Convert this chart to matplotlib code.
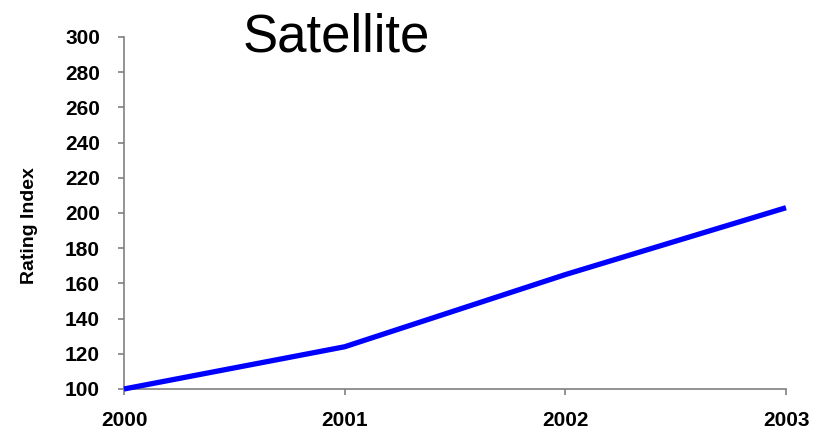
import matplotlib
matplotlib.use("Agg")
import matplotlib.pyplot as plt

years = [2000, 2001, 2002, 2003]
rating_index = [100, 124, 165, 203]
y_ticks = list(range(100, 301, 20))

plt.rcParams['font.family'] = ['Liberation Sans', 'DejaVu Sans']

fig = plt.figure(figsize=(8.23, 4.30), dpi=100)
ax = fig.add_axes([124 / 823, 41 / 430, (786 - 124) / 823, (389 - 37) / 430])

ax.plot(years, rating_index, color='#0000FF', linewidth=3.8, solid_capstyle='butt',
        clip_on=False, zorder=3)

ax.set_xlim(2000, 2003)
ax.set_ylim(100, 300)
ax.set_xticks(years)
ax.set_xticklabels([str(y) for y in years])
ax.set_yticks(y_ticks)

for side in ('top', 'right'):
    ax.spines[side].set_visible(False)
for side in ('left', 'bottom'):
    ax.spines[side].set_color('#808080')
    ax.spines[side].set_linewidth(1.2)

ax.tick_params(axis='y', direction='out', length=4.3, width=1.2, color='#808080',
               pad=13, labelsize=15)
ax.tick_params(axis='x', direction='out', length=4, width=1.2, color='#808080',
               pad=12, labelsize=15)
for lbl in ax.get_xticklabels() + ax.get_yticklabels():
    lbl.set_fontweight('bold')

fig.text(30 / 823, 1 - 226 / 430, 'Rating Index', fontsize=14, fontweight='bold',
         rotation=90, ha='center', va='center')

fig.text(336 / 823, 1 - 51 / 430, 'Satellite', fontsize=38, ha='center',
         va='baseline')

fig.savefig('out.png', dpi=100)
